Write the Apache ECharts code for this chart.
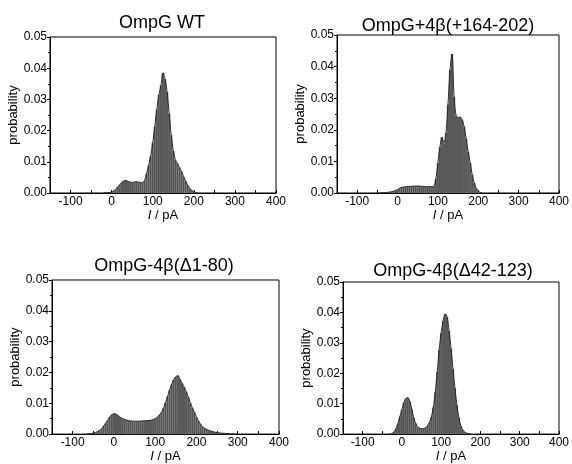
<!DOCTYPE html>
<html>
<head>
<meta charset="utf-8">
<script src="https://cdn.jsdelivr.net/npm/echarts@6/dist/echarts.min.js"></script>
<style>
  html, body { margin: 0; padding: 0; background: #fff; }
  #chart { width: 572px; height: 464px; }
</style>
</head>
<body>
<div id="chart"></div>
<script>
// histogram bin centres (pA) and probabilities, 5 pA bins
const wtStart = -20;
const wtValues = [
  0.0001, 0.0001, 0.0001, 0.0002, 0.0003, 0.0007, 0.0012, 0.0020, 0.0027, 0.0034,
  0.0039, 0.0040, 0.0037, 0.0035, 0.0034, 0.0035, 0.0036, 0.0035, 0.0034, 0.0033,
  0.0039, 0.0062, 0.0088, 0.0118, 0.0160, 0.0213, 0.0268, 0.0315, 0.0345, 0.0385,
  0.0365, 0.0324, 0.0255, 0.0185, 0.0135, 0.0106, 0.0095, 0.0082, 0.0069, 0.0053,
  0.0038, 0.0025, 0.0015, 0.0009, 0.0004, 0.0002, 0.0001
];

const plusStart = -45;
const plusValues = [
  0.0001, 0.0001, 0.0001, 0.0001, 0.0002, 0.0003, 0.0004, 0.0006, 0.0008, 0.0011,
  0.0015, 0.0018, 0.0019, 0.0020, 0.0021, 0.0021, 0.0021, 0.0022, 0.0022, 0.0022,
  0.0022, 0.0021, 0.0021, 0.0020, 0.0020, 0.0020, 0.0020, 0.0021, 0.0045, 0.0095,
  0.0145, 0.0177, 0.0158, 0.0190, 0.0280, 0.0390, 0.0440, 0.0305, 0.0245, 0.0238,
  0.0240, 0.0232, 0.0210, 0.0172, 0.0130, 0.0095, 0.0058, 0.0032, 0.0015, 0.0006,
  0.0002, 0.0001
];

const d180Start = -65;
const d180Values = [
  0.0001, 0.0001, 0.0002, 0.0003, 0.0005, 0.0008, 0.0012, 0.0017, 0.0026, 0.0035,
  0.0045, 0.0056, 0.0063, 0.0066, 0.0065, 0.0060, 0.0055, 0.0051, 0.0048, 0.0046,
  0.0044, 0.0043, 0.0042, 0.0042, 0.0042, 0.0042, 0.0042, 0.0043, 0.0043, 0.0044,
  0.0044, 0.0045, 0.0047, 0.0050, 0.0055, 0.0062, 0.0070, 0.0084, 0.0102, 0.0122,
  0.0143, 0.0162, 0.0177, 0.0186, 0.0190, 0.0178, 0.0165, 0.0153, 0.0138, 0.0121,
  0.0102, 0.0085, 0.0071, 0.0055, 0.0042, 0.0032, 0.0024, 0.0019, 0.0015, 0.0012,
  0.0010, 0.0008, 0.0006, 0.0005, 0.0004, 0.0003, 0.0003, 0.0002, 0.0002, 0.0001,
  0.0001, 0.0001, 0.0001
];

const d42Start = -30;
const d42Values = [
  0.0001, 0.0002, 0.0008, 0.0018, 0.0035, 0.0058, 0.0080, 0.0104, 0.0117, 0.0120,
  0.0108, 0.0082, 0.0054, 0.0035, 0.0024, 0.0020, 0.0018, 0.0018, 0.0021, 0.0027,
  0.0038, 0.0056, 0.0088, 0.0138, 0.0205, 0.0278, 0.0333, 0.0372, 0.0395, 0.0385,
  0.0340, 0.0282, 0.0215, 0.0152, 0.0095, 0.0055, 0.0027, 0.0014, 0.0007, 0.0003,
  0.0002, 0.0001
];

const binWidth = 5;
const titles = ['OmpG WT', 'OmpG+4β(+164-202)', 'OmpG-4β(Δ1-80)', 'OmpG-4β(Δ42-123)'];

const panels = [
  { start: wtStart, values: wtValues },
  { start: plusStart, values: plusValues },
  { start: d180Start, values: d180Values },
  { start: d42Start, values: d42Values }
];

// layout of the four plot boxes
const boxes = [
  { left: 50, top: 37, width: 226, height: 156, tx: 157, ty: 9 },
  { left: 337, top: 35, width: 227, height: 158, tx: 443, ty: 12 },
  { left: 52, top: 280, width: 227, height: 156, tx: 159, ty: 252 },
  { left: 343, top: 282, width: 226, height: 155, tx: 448, ty: 257 }
];

const font = 'Liberation Sans, Arial, sans-serif';

const chart = echarts.init(document.getElementById('chart'), null, { renderer: 'canvas' });

const grid = [], xAxis = [], yAxis = [], series = [], title = [];

boxes.forEach((b, i) => {
  grid.push({
    left: b.left, top: b.top, width: b.width, height: b.height,
    show: true, borderColor: '#000', borderWidth: 1, backgroundColor: 'transparent'
  });
  title.push({
    text: titles[i], left: b.tx, top: b.ty, textAlign: 'center',
    textStyle: { fontFamily: font, fontSize: 18, fontWeight: 'normal', color: '#000' }
  });
  xAxis.push({
    type: 'value', gridIndex: i, min: -150, max: 400, interval: 50,
    name: '{i|I} / pA', nameLocation: 'middle', nameGap: 14,
    nameTextStyle: {
      fontFamily: font, fontSize: 13, color: '#000',
      rich: { i: { fontFamily: font, fontSize: 13, fontStyle: 'italic', color: '#000' } }
    },
    axisLine: { show: true, onZero: false, lineStyle: { color: '#000', width: 1 } },
    axisTick: { show: true, inside: true, length: 3, lineStyle: { color: '#000' } },
    axisLabel: {
      fontFamily: font, fontSize: 12, color: '#000', margin: 3,
      formatter: v => (v % 100 === 0 ? String(v) : '')
    },
    splitLine: { show: false }
  });
  yAxis.push({
    type: 'value', gridIndex: i, min: 0, max: 0.05, interval: 0.01,
    name: 'probability', nameLocation: 'middle', nameGap: 29, nameRotate: 90,
    nameTextStyle: { fontFamily: font, fontSize: 13, color: '#000' },
    axisLine: { show: true, onZero: false, lineStyle: { color: '#000', width: 1 } },
    axisTick: { show: true, length: 3, lineStyle: { color: '#000' } },
    minorTick: { show: true, splitNumber: 2, length: 2, lineStyle: { color: '#000' } },
    axisLabel: {
      fontFamily: font, fontSize: 12, color: '#000', margin: 3,
      formatter: v => v.toFixed(2)
    },
    splitLine: { show: false }
  });
  const p = panels[i];
  const data = p.values.map((v, k) => [p.start + k * binWidth, v]);
  series.push({
    type: 'bar', xAxisIndex: i, yAxisIndex: i, data: data,
    barWidth: binWidth * b.width / 550 + 0.3,
    itemStyle: { color: '#525252', borderColor: '#9a9a9a', borderWidth: 0.2 },
    silent: true, animation: false
  });
  series.push({
    type: 'line', xAxisIndex: i, yAxisIndex: i, data: data,
    smooth: 0.3, showSymbol: false, symbol: 'none',
    lineStyle: { color: '#2a2a2a', width: 1 },
    silent: true, animation: false
  });
});

chart.setOption({
  animation: false,
  title: title,
  grid: grid,
  xAxis: xAxis,
  yAxis: yAxis,
  series: series
});
</script>
</body>
</html>
